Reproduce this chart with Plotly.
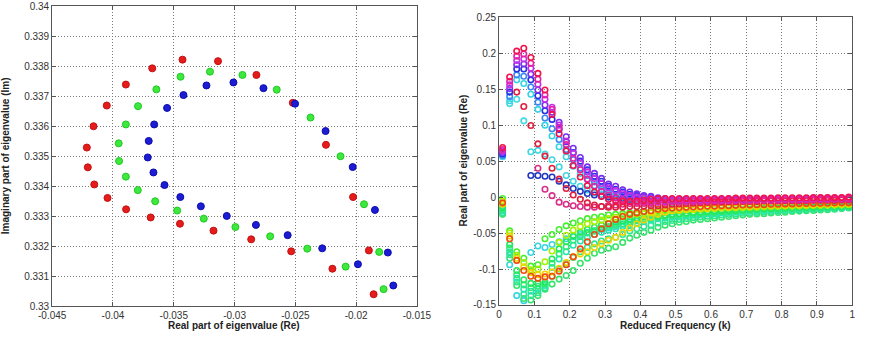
import plotly.graph_objects as go

# ---------------- Left panel: eigenvalue loci ----------------
red_re = [-0.04215, -0.04207, -0.04160, -0.04051, -0.03894, -0.03677, -0.03428, -0.03136, -0.02820, -0.02521, -0.02248,
          -0.04154, -0.04045, -0.03892, -0.03690, -0.03449, -0.03173, -0.02863, -0.02534, -0.02195, -0.02025, -0.01895, -0.01856]
red_im = [0.33529, 0.33463, 0.33600, 0.33669, 0.33739, 0.33793, 0.33822, 0.33817, 0.33771, 0.33678, 0.33538,
          0.33406, 0.33361, 0.33323, 0.33296, 0.33275, 0.33252, 0.33223, 0.33183, 0.33125, 0.33364, 0.33186, 0.33040]
green_re = [-0.03953, -0.03950, -0.03894, -0.03794, -0.03643, -0.03444, -0.03202, -0.02935, -0.02653, -0.02375, -0.02128,
            -0.03894, -0.03796, -0.03653, -0.03472, -0.03253, -0.02993, -0.02707, -0.02402, -0.02086, -0.01935, -0.01810, -0.01774]
green_im = [0.33543, 0.33484, 0.33606, 0.33667, 0.33723, 0.33765, 0.33782, 0.33771, 0.33722, 0.33629, 0.33500,
            0.33432, 0.33387, 0.33350, 0.33319, 0.33292, 0.33264, 0.33233, 0.33192, 0.33132, 0.33340, 0.33181, 0.33057]
blue_re = [-0.03714, -0.03706, -0.03661, -0.03555, -0.03420, -0.03231, -0.03009, -0.02762, -0.02502, -0.02251, -0.02028,
           -0.03667, -0.03576, -0.03446, -0.03277, -0.03064, -0.02824, -0.02563, -0.02279, -0.01985, -0.01845, -0.01739, -0.01694]
blue_im = [0.33496, 0.33551, 0.33606, 0.33661, 0.33704, 0.33736, 0.33746, 0.33727, 0.33675, 0.33584, 0.33464,
           0.33446, 0.33404, 0.33364, 0.33333, 0.33301, 0.33271, 0.33237, 0.33193, 0.33140, 0.33321, 0.33179, 0.33069]

LX_TICKS = [-0.045, -0.04, -0.035, -0.03, -0.025, -0.02, -0.015]
LX_LABELS = ["-0.045", "-0.04", "-0.035", "-0.03", "-0.025", "-0.02", "-0.015"]
LY_TICKS = [0.33, 0.331, 0.332, 0.333, 0.334, 0.335, 0.336, 0.337, 0.338, 0.339, 0.34]
LY_LABELS = ["0.33", "0.331", "0.332", "0.333", "0.334", "0.335", "0.336", "0.337", "0.338", "0.339", "0.34"]

# ---------------- Right panel: real part vs reduced frequency ----------------
K = [0.01, 0.03, 0.05, 0.07, 0.09, 0.11, 0.13, 0.15, 0.17, 0.19, 0.21, 0.23, 0.25, 0.27, 0.29, 0.31, 0.33,
     0.35, 0.37, 0.39, 0.41, 0.43, 0.45, 0.47, 0.49, 0.51, 0.53, 0.55, 0.57, 0.59, 0.61, 0.63, 0.65, 0.67,
     0.69, 0.71, 0.73, 0.75, 0.77, 0.79, 0.81, 0.83, 0.85, 0.87, 0.89, 0.91, 0.93, 0.95, 0.97, 0.99]

# upper (flutter) branch
U_red = [0.069, 0.167, 0.203, 0.207, 0.194, 0.172, 0.149, 0.115, 0.088, 0.064, 0.044, 0.028, 0.016, 0.007, 0.001,
         -0.003, -0.005, -0.006, -0.006, -0.005, -0.004, -0.003,
         -0.002, -0.002, -0.002, -0.002, -0.002, -0.002, -0.002, -0.002, -0.002, -0.002, -0.002,
         -0.0015, -0.0015, -0.0015, -0.0015, -0.0015, -0.0015, -0.001, -0.001, -0.001, -0.001, -0.001,
         -0.0005, -0.0005, -0.0005, -0.0005, -0.0005, 0.0]
U_pink = [0.066, 0.161, 0.196, 0.199, 0.186, 0.164, 0.142, 0.122, 0.096, 0.073, 0.054, 0.038, 0.025, 0.015, 0.008,
          0.003, -0.001, -0.004, -0.006, -0.007, -0.007, -0.007,
          -0.007, -0.007, -0.0065, -0.0065, -0.006, -0.006, -0.006, -0.0055, -0.0055, -0.0055, -0.005, -0.005,
          -0.005, -0.005, -0.0045, -0.0045, -0.0045, -0.0045, -0.004, -0.004, -0.004, -0.004, -0.0035, -0.0035,
          -0.0035, -0.003, -0.003, -0.003]
U_mag = [0.064, 0.156, 0.190, 0.192, 0.179, 0.157, 0.136, 0.125, 0.100, 0.078, 0.061, 0.047, 0.035, 0.026, 0.019,
         0.013, 0.009, 0.005, 0.002, 0.000, -0.001, -0.002,
         -0.004, -0.004, -0.004, -0.004, -0.004, -0.004, -0.0035, -0.0035, -0.0035, -0.0035, -0.0035, -0.003,
         -0.003, -0.003, -0.003, -0.003, -0.003, -0.0025, -0.0025, -0.0025, -0.0025, -0.0025, -0.002, -0.002,
         -0.002, -0.002, -0.002, -0.0015]
U_violet = [0.062, 0.151, 0.184, 0.185, 0.171, 0.149, 0.128, 0.118, 0.104, 0.084, 0.068, 0.055, 0.042, 0.033, 0.026,
            0.018, 0.015, 0.010, 0.007, 0.0045, 0.002, 0.001,
            -0.001, -0.002, -0.003, -0.003, -0.003, -0.003, -0.003, -0.003, -0.003, -0.003, -0.0025, -0.0025,
            -0.0025, -0.0025, -0.0025, -0.0025, -0.002, -0.002, -0.002, -0.002, -0.002, -0.002, -0.0015, -0.0015,
            -0.0015, -0.0015, -0.0015, -0.001]
U_blue = [0.060, 0.146, 0.178, 0.178, 0.163, 0.141, 0.120, 0.108, 0.094, 0.077, 0.062, 0.050, 0.038, 0.029, 0.022,
          0.015, 0.011, 0.007, 0.004, 0.002, 0.000, -0.001,
          -0.003, -0.004, -0.004, -0.004, -0.004, -0.004, -0.004, -0.004, -0.0035, -0.0035, -0.0035, -0.0035,
          -0.0035, -0.003, -0.003, -0.003, -0.003, -0.003, -0.003, -0.0025, -0.0025, -0.0025, -0.0025, -0.0025,
          -0.002, -0.002, -0.002, -0.002]
U_lblue = [0.058, 0.140, 0.170, 0.168, 0.153, 0.132, 0.110, 0.095, 0.080, 0.066, 0.052, 0.040, 0.030, 0.021, 0.014,
           0.008, 0.004, 0.001, -0.001, -0.003, -0.004, -0.005,
           -0.006, -0.006, -0.006, -0.006, -0.0055, -0.0055, -0.0055, -0.005, -0.005, -0.005, -0.005, -0.0045,
           -0.0045, -0.0045, -0.0045, -0.004, -0.004, -0.004, -0.004, -0.004, -0.0035, -0.0035, -0.0035, -0.0035,
           -0.003, -0.003, -0.003, -0.003]
U_cyan = [0.056, 0.134, 0.163, 0.158, 0.143, 0.122, 0.100, 0.085, 0.070, 0.056, 0.043, 0.033, 0.024, 0.016, 0.010,
          0.005, 0.001, -0.002, -0.004, -0.006, -0.007, -0.008,
          -0.007, -0.007, -0.007, -0.0065, -0.0065, -0.006, -0.006, -0.006, -0.0055, -0.0055, -0.0055, -0.005,
          -0.005, -0.005, -0.005, -0.0045, -0.0045, -0.0045, -0.0045, -0.004, -0.004, -0.004, -0.004, -0.0035,
          -0.0035, -0.0035, -0.003, -0.003]
S_red = [None, None, 0.146, 0.126, 0.0995, 0.074, 0.057, 0.040, 0.025, 0.012, 0.003, -0.003, -0.008, -0.011, -0.013,
         -0.014, -0.014, -0.014, -0.013, -0.013, -0.0125, -0.012,
         -0.012, -0.011, -0.010, -0.0095, -0.009, -0.0085, -0.008, -0.0075, -0.007, -0.007, -0.0065, -0.0065,
         -0.006, -0.006, -0.006, -0.0055, -0.0055, -0.0055, -0.005, -0.005, -0.005, -0.005, -0.0045, -0.0045,
         -0.0045, -0.0045, -0.004, -0.004]
S_cyan = [None, 0.130, 0.136, 0.106, 0.063, 0.065, 0.060, 0.052, 0.042, 0.030, 0.022, 0.015, 0.010, 0.006, 0.004,
          0.002, 0.001, 0.000, -0.001, -0.002, -0.003, -0.003] + [None] * 28
S_blue = [None, None, None, None, 0.030, 0.030, 0.029, 0.028, 0.022, 0.017, 0.012, 0.008, 0.005, 0.003, 0.001,
          0.000, -0.001, -0.002, -0.003, None, None, None] + [None] * 28
S_pink = [None, None, None, None, None, 0.040, 0.011, 0.002, -0.007, -0.010, -0.012, -0.013, -0.014, -0.014, -0.013,
          -0.012, -0.011, -0.010, -0.009, -0.009, -0.009, -0.009] + [None] * 28

# lower (damped) branch
L_orange = [-0.008, -0.058, -0.088, -0.102, -0.110, -0.113, -0.111, -0.110, -0.103, -0.094, -0.083, -0.072, -0.062,
            -0.052, -0.044, -0.037, -0.031, -0.027, -0.024, -0.022, -0.020, -0.019,
            -0.017, -0.016, -0.015, -0.0145, -0.014, -0.0135, -0.013, -0.0125, -0.0125, -0.012, -0.012, -0.0115,
            -0.011, -0.011, -0.0105, -0.0105, -0.010, -0.010, -0.0095, -0.0095, -0.009, -0.009, -0.009, -0.0085,
            -0.0085, -0.008, -0.008, -0.008]
L_yellow = [-0.010, -0.054, -0.085, -0.097, -0.105, -0.108, -0.107, -0.104, -0.099, -0.091, -0.083, -0.079, -0.076,
            -0.070, -0.065, -0.060, -0.056, -0.049, -0.043, -0.037, -0.032, -0.028,
            -0.024, -0.021, -0.019, -0.018, -0.017, -0.0165, -0.016, -0.0155, -0.015, -0.0145, -0.014, -0.0135,
            -0.013, -0.013, -0.0125, -0.012, -0.012, -0.0115, -0.0115, -0.011, -0.011, -0.0105, -0.0105, -0.010,
            -0.010, -0.0095, -0.0095, -0.009]
L_lime = [-0.005, -0.050, -0.081, -0.091, -0.101, -0.100, -0.090, -0.075, -0.063, -0.053, -0.046, -0.041, -0.037,
          -0.034, -0.032, -0.030, -0.028, -0.026, -0.025, -0.024, -0.023, -0.022,
          -0.021, -0.020, -0.019, -0.0185, -0.018, -0.0175, -0.017, -0.0165, -0.016, -0.0155, -0.015, -0.015,
          -0.0145, -0.014, -0.014, -0.0135, -0.013, -0.013, -0.0125, -0.0125, -0.012, -0.012, -0.0115, -0.0115,
          -0.011, -0.011, -0.0105, -0.0105]
L_green = [-0.002, -0.047, -0.076, -0.085, -0.096, -0.094, -0.058, -0.052, -0.045, -0.040, -0.036, -0.033, -0.030,
           -0.028, -0.027, -0.025, -0.024, -0.023, -0.022, -0.021, -0.020, -0.0195,
           -0.019, -0.018, -0.0175, -0.017, -0.0165, -0.016, -0.0155, -0.015, -0.0145, -0.014, -0.014, -0.0135,
           -0.013, -0.013, -0.0125, -0.012, -0.012, -0.0115, -0.0115, -0.011, -0.011, -0.0105, -0.0105, -0.010,
           -0.010, -0.010, -0.0095, -0.0095]
L_green2 = [-0.014, -0.066, -0.102, -0.115, -0.120, -0.120, -0.118, -0.086, -0.072, -0.062, -0.054, -0.049, -0.045,
            -0.042, -0.039, -0.037, -0.035, -0.033, -0.031, -0.029, -0.028, -0.027,
            -0.026, -0.025, -0.024, -0.023, -0.022, -0.0215, -0.021, -0.020, -0.0195, -0.019, -0.0185, -0.018,
            -0.0175, -0.017, -0.0165, -0.016, -0.016, -0.0155, -0.015, -0.015, -0.0145, -0.014, -0.014, -0.0135,
            -0.0135, -0.013, -0.013, -0.0125]
L_green3 = [-0.017, -0.071, -0.108, -0.122, -0.126, -0.124, -0.121, -0.092, -0.079, -0.069, -0.060, -0.055, -0.050,
            -0.047, -0.044, -0.041, -0.039, -0.037, -0.034, -0.032, -0.031, -0.0295,
            -0.028, -0.027, -0.026, -0.025, -0.024, -0.023, -0.0225, -0.0218, -0.0212, -0.0205, -0.020, -0.0195,
            -0.019, -0.0183, -0.0178, -0.0172, -0.017, -0.0165, -0.016, -0.016, -0.0155, -0.015, -0.015, -0.0145,
            -0.0143, -0.014, -0.0138, -0.0133]
L_aqua = [-0.019, -0.076, -0.113, -0.128, -0.131, -0.128, -0.123, -0.098, -0.086, -0.076, -0.067, -0.061, -0.056,
          -0.052, -0.049, -0.046, -0.044, -0.041, -0.038, -0.036, -0.034, -0.032,
          -0.030, -0.029, -0.028, -0.027, -0.026, -0.025, -0.024, -0.0235, -0.023, -0.022, -0.0215, -0.021,
          -0.020, -0.0195, -0.019, -0.0185, -0.018, -0.0175, -0.017, -0.017, -0.0165, -0.016, -0.016, -0.0155,
          -0.015, -0.015, -0.0145, -0.014]
L_deep = [-0.022, -0.080, -0.118, -0.135, -0.137, -0.133, -0.126, -0.110, -0.100, -0.092, -0.084, -0.076, -0.070,
          -0.065, -0.061, -0.058, -0.056, -0.052, -0.047, -0.044, -0.041, -0.039,
          -0.036, -0.034, -0.0325, -0.031, -0.030, -0.0285, -0.0275, -0.0265, -0.026, -0.025, -0.024, -0.0235,
          -0.0225, -0.0218, -0.0213, -0.0208, -0.020, -0.0195, -0.019, -0.0185, -0.018, -0.0175, -0.017, -0.0168,
          -0.0163, -0.016, -0.0153, -0.0145]
L_bottom = [-0.024, -0.085, -0.123, -0.141, -0.143, -0.137, -0.128, -0.121, -0.114, -0.109, -0.102, -0.092, -0.085,
            -0.078, -0.074, -0.071, -0.069, -0.063, -0.057, -0.053, -0.049, -0.046,
            -0.042, -0.039, -0.037, -0.035, -0.034, -0.032, -0.031, -0.030, -0.029, -0.028, -0.027, -0.026,
            -0.025, -0.024, -0.0235, -0.023, -0.022, -0.0215, -0.021, -0.020, -0.0195, -0.019, -0.0185, -0.018,
            -0.0175, -0.017, -0.016, -0.015]
L_cyan = [-0.022, -0.094, -0.137, -0.144, -0.077, -0.068, -0.070, -0.066, -0.062, -0.058, -0.055, -0.052, -0.049,
          -0.047, -0.045, -0.043, -0.041, -0.038, -0.035, -0.033, -0.031, -0.030,
          -0.028, -0.027, -0.026, -0.025, -0.0245, -0.024, -0.023, -0.022, -0.0215, -0.021, -0.020, -0.0195,
          -0.019, -0.0185, -0.018, -0.0175, -0.017, -0.017, -0.0165, -0.016, -0.016, -0.0155, -0.015, -0.015,
          -0.0145, -0.014, -0.014, -0.0135]

RX_TICKS = [0, 0.1, 0.2, 0.3, 0.4, 0.5, 0.6, 0.7, 0.8, 0.9, 1]
RX_LABELS = ["0", "0.1", "0.2", "0.3", "0.4", "0.5", "0.6", "0.7", "0.8", "0.9", "1"]
RY_TICKS = [-0.15, -0.1, -0.05, 0, 0.05, 0.1, 0.15, 0.2, 0.25]
RY_LABELS = ["-0.15", "-0.1", "-0.05", "0", "0.05", "0.1", "0.15", "0.2", "0.25"]

# draw order (first drawn = underneath) with colours
right_series = [
    (L_cyan, "#36d6e0"), (L_bottom, "#36e46c"), (L_deep, "#2ee690"), (L_aqua, "#26e6b0"),
    (L_green3, "#30ea78"), (L_green2, "#22e85c"),
    (L_green, "#44f030"), (L_lime, "#a8f000"), (L_yellow, "#f0d400"), (L_orange, "#f04a10"),
    (U_cyan, "#36d4e2"), (U_lblue, "#3a86f2"), (S_cyan, "#40d8e2"), (S_blue, "#2238c0"),
    (U_blue, "#2232e4"), (U_violet, "#7a2ef2"), (U_mag, "#c42ee8"), (S_pink, "#d8308a"),
    (S_red, "#e0203e"), (U_pink, "#e622a4"), (U_red, "#f2124c"),
]
for ys, _ in right_series:
    assert len(ys) == len(K), len(ys)

W, H = 875, 340
fig = go.Figure()

left_series = [(red_re, red_im, "#e41c1c", "#c41010"),
               (green_re, green_im, "#3ee83e", "#20c820"),
               (blue_re, blue_im, "#1c1cd2", "#0c0cae")]
for xs, ys, c, lc in left_series:
    fig.add_trace(go.Scatter(x=xs, y=ys, mode="markers", xaxis="x", yaxis="y",
                             marker=dict(size=7, color=c, line=dict(color=lc, width=1)),
                             showlegend=False, hoverinfo="skip"))

for ys, c in right_series:
    fig.add_trace(go.Scatter(x=K, y=ys, mode="markers", xaxis="x2", yaxis="y2",
                             marker=dict(symbol="circle-open", size=5.5, color=c, line=dict(color=c, width=1.6)),
                             showlegend=False, hoverinfo="skip"))

tickfont = dict(family="Liberation Sans, Arial, sans-serif", size=10, color="#333333")
axis_common = dict(showgrid=True, gridcolor="#7a7a7a", griddash="1px,2px", gridwidth=1,
                   zeroline=False, showline=True, linecolor="#555555", linewidth=1,
                   mirror="ticks", ticks="inside", ticklen=4, tickcolor="#555555",
                   tickfont=tickfont, fixedrange=True)

fig.update_layout(
    width=W, height=H,
    margin=dict(l=0, r=0, t=0, b=0),
    paper_bgcolor="white", plot_bgcolor="white",
    xaxis=dict(domain=[39.5 / W, 416.7 / W], range=[-0.045, -0.015], anchor="y",
               tickvals=LX_TICKS, ticktext=LX_LABELS, **axis_common),
    yaxis=dict(domain=[1 - 311.3 / H, 1 - 1.3 / H], range=[0.33, 0.34], anchor="x",
               tickvals=LY_TICKS, ticktext=LY_LABELS, **axis_common),
    xaxis2=dict(domain=[501.7 / W, 867 / W], range=[0, 1], anchor="y2",
                tickvals=RX_TICKS, ticktext=RX_LABELS, **axis_common),
    yaxis2=dict(domain=[1 - 310 / H, 1 - 12.7 / H], range=[-0.15, 0.25], anchor="x2",
                tickvals=RY_TICKS, ticktext=RY_LABELS, **axis_common),
)

titlefont = dict(family="Liberation Sans, Arial, sans-serif", size=10, color="#222222")
titles = [
    ("<b>Real part of eigenvalue (Re)</b>", 228 / W, 1 - 331.5 / H, 0),
    ("<b>Imaginary part of eigenvalue (Im)</b>", -8 / W, 1 - 156 / H, -90),
    ("<b>Reduced Frequency (k)</b>", 684 / W, 1 - 331 / H, 0),
    ("<b>Real part of eigenvalue (Re)</b>", 465 / W, 1 - 161 / H, -90),
]
for text, x, y, ang in titles:
    fig.add_annotation(text=text, x=x, y=y, xref="paper", yref="paper", showarrow=False,
                       textangle=ang, font=titlefont, xanchor="center", yanchor="middle")

fig.write_html("out.html")
